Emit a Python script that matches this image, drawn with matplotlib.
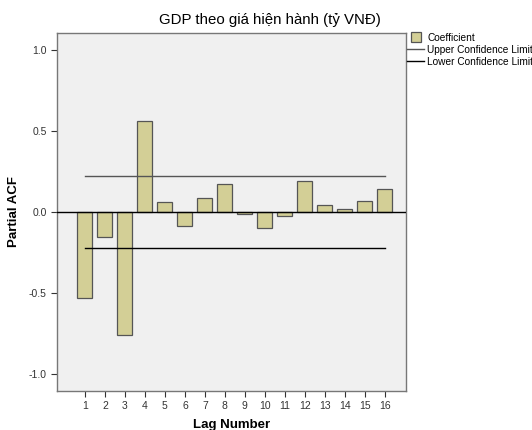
import numpy as np
import matplotlib.pyplot as plt
from matplotlib.lines import Line2D

plt.rcParams["font.family"] = ["Liberation Sans", "DejaVu Sans"]

# Partial ACF values
lags = np.arange(1, 17)
pacf = [-0.53, -0.156, -0.757, 0.563, 0.06, -0.088, 0.088, 0.173,
        -0.011, -0.097, -0.025, 0.19, 0.045, 0.02, 0.066, 0.14]
upper_limit = 0.224
lower_limit = -0.222

fig = plt.figure(figsize=(5.32, 4.30), dpi=100)
ax = fig.add_axes([0.107, 0.091, 0.656, 0.832])
ax.set_facecolor("#F0F0F0")

ax.bar(lags, pacf, width=0.75, color="#D3CF96", edgecolor="#555555", linewidth=0.9, zorder=2)
ax.axhline(0, color="black", linewidth=1.0, zorder=3)
ax.plot([lags[0], lags[-1]], [upper_limit, upper_limit], color="#555555", linewidth=1.0, zorder=3)
ax.plot([lags[0], lags[-1]], [lower_limit, lower_limit], color="black", linewidth=1.0, zorder=3)

ax.set_xlim(-0.4, 17.05)
ax.set_ylim(-1.105, 1.105)
ax.set_xticks(lags)
ax.set_yticks([-1.0, -0.5, 0.0, 0.5, 1.0])
ax.set_yticklabels(["-1.0", "-0.5", "0.0", "0.5", "1.0"])
ax.tick_params(labelsize=7.5, colors="#333333", length=4, width=0.8)

for s in ax.spines.values():
    s.set_color("#777777")
    s.set_linewidth(1.0)

# title is centred on the whole figure, not the axes
fig.text(0.508, 0.953, "GDP theo giá hiện hành (tỷ VNĐ)", fontsize=10.8, ha="center", va="center")
ax.set_xlabel("Lag Number", fontsize=9.5, fontweight="bold")
ax.set_ylabel("Partial ACF", fontsize=9.5, fontweight="bold")
ax.xaxis.set_label_coords(0.5, -0.078)
ax.yaxis.set_label_coords(-0.106, 0.5)

handles = [
    Line2D([], [], linestyle="none", marker="s", markersize=7, markerfacecolor="#D3CF96",
           markeredgecolor="#555555", markeredgewidth=0.9, label="Coefficient"),
    Line2D([], [], color="#555555", linewidth=1.0, label="Upper Confidence Limit"),
    Line2D([], [], color="black", linewidth=1.0, label="Lower Confidence Limit"),
]
ax.legend(handles=handles, loc="upper left", bbox_to_anchor=(0.995, 1.01), frameon=False,
          fontsize=7.3, handlelength=1.7, handletextpad=0.3, labelspacing=0.2,
          borderaxespad=0.2, borderpad=0.1, markerfirst=True)

plt.savefig("out.png", dpi=100)
